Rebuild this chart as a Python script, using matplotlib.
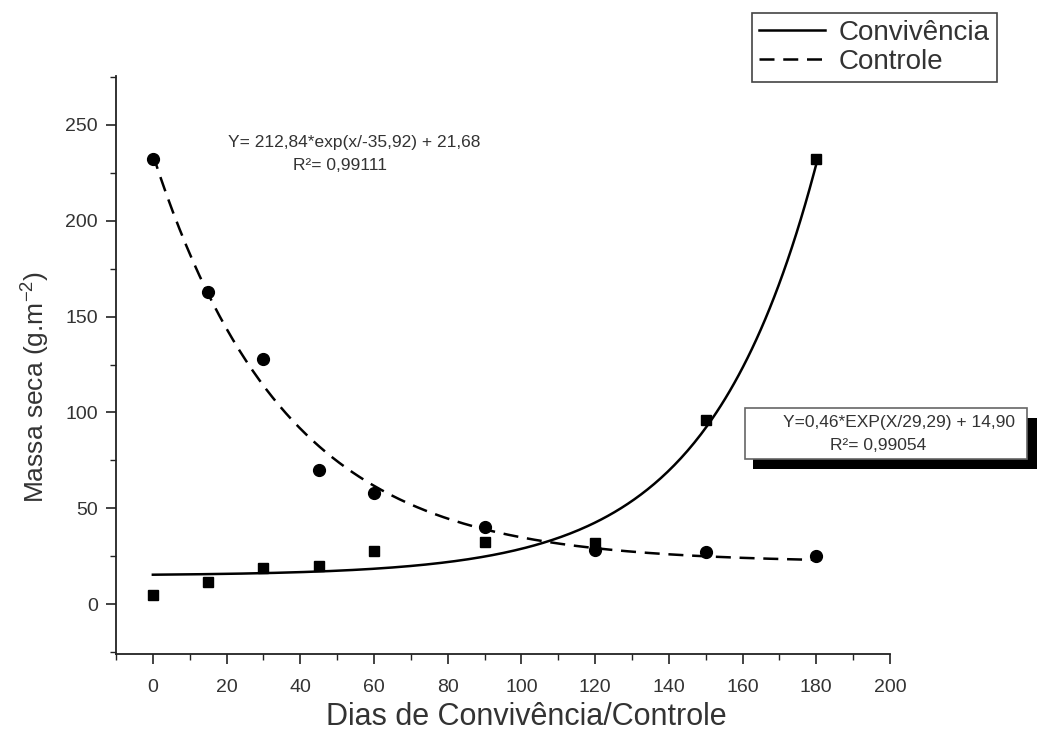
import numpy as np
import matplotlib
matplotlib.use("Agg")
import matplotlib.pyplot as plt
from matplotlib.patches import Rectangle
from matplotlib.ticker import MultipleLocator

plt.rcParams["font.family"] = ["Liberation Sans", "DejaVu Sans"]
plt.rcParams["mathtext.fontset"] = "custom"
plt.rcParams["mathtext.rm"] = "Liberation Sans"
plt.rcParams["mathtext.it"] = "Liberation Sans:italic"

# dados
dias = [0, 15, 30, 45, 60, 90, 120, 150, 180]
convivencia = [5, 11.5, 19, 20, 27.5, 32.5, 32, 96, 232]
controle = [232, 163, 128, 70, 58, 40, 28, 27, 25]

# coeficientes das curvas ajustadas (como impressos no grafico)
conv_a, conv_t, conv_y0 = 0.46, 29.29, 14.90
ctrl_a, ctrl_t, ctrl_y0 = 212.84, -35.92, 21.68

eq_controle = ["Y= 212,84*exp(x/-35,92) + 21,68", "R²= 0,99111"]
eq_convivencia = ["Y=0,46*EXP(X/29,29) + 14,90", "R²= 0,99054"]

W, H = 1038, 735
TXT = "#333333"


def fx(px):
    return px / W


def fy(py):
    return 1 - py / H


fig = plt.figure(figsize=(W / 100, H / 100), dpi=100)
ax = fig.add_axes([fx(116), fy(654), fx(890) - fx(116), fy(76) - fy(654)])

xs = np.linspace(dias[0], dias[-1], 300)
ax.plot(xs, conv_a * np.exp(xs / conv_t) + conv_y0, color="black", lw=1.8,
        label="Convivência")
ax.plot(xs, ctrl_a * np.exp(xs / ctrl_t) + ctrl_y0, color="black", lw=1.8,
        dashes=(6, 3.5), label="Controle")
ax.plot(dias, convivencia, "s", color="black", ms=7, ls="none")
ax.plot(dias, controle, "o", color="black", ms=8.5, ls="none")

ax.set_xlim(-10, 200)
ax.set_ylim(-26, 275.5)
ax.xaxis.set_major_locator(MultipleLocator(20))
ax.xaxis.set_minor_locator(MultipleLocator(10))
ax.yaxis.set_major_locator(MultipleLocator(50))
ax.yaxis.set_minor_locator(MultipleLocator(25))
for s in ["top", "right"]:
    ax.spines[s].set_visible(False)
for s in ["left", "bottom"]:
    ax.spines[s].set_color("#222222")
    ax.spines[s].set_linewidth(1.3)
ax.tick_params(which="major", length=7, width=1.2, color="#222222",
               labelsize=14, labelcolor=TXT)
ax.tick_params(axis="x", which="major", pad=11)
ax.tick_params(axis="y", which="major", pad=6)
ax.tick_params(which="minor", length=4, width=1.0, color="#222222")

ax.set_xlabel("Dias de Convivência/Controle", fontsize=22, color=TXT)
ax.xaxis.set_label_coords(0.53, -0.083)
ax.set_ylabel(r"Massa seca (g.m$^{-2}$)", fontsize=19, color=TXT)
ax.yaxis.set_label_coords(-0.083, 0.462)

leg = fig.legend(loc="upper right", bbox_to_anchor=(fx(997), fy(13)),
                 fontsize=20, handlelength=2.4, handletextpad=0.5,
                 borderpad=0.25, labelspacing=0.1, fancybox=False,
                 framealpha=1, edgecolor="#444444", borderaxespad=0)
leg.get_frame().set_linewidth(1.2)
for t in leg.get_texts():
    t.set_color(TXT)

# equacao da curva controle
fig.text(fx(354), fy(142), eq_controle[0], ha="center", va="center",
         fontsize=12.5, color=TXT)
fig.text(fx(340), fy(166), eq_controle[1], ha="center", va="center",
         fontsize=12.5, color=TXT)

# caixa com sombra da curva convivencia
fig.patches.append(Rectangle((fx(753), fy(469)), fx(1037) - fx(753),
                             fy(418) - fy(469), transform=fig.transFigure,
                             facecolor="black", edgecolor="none", zorder=1))
fig.patches.append(Rectangle((fx(745), fy(459)), fx(1027) - fx(745),
                             fy(408) - fy(459), transform=fig.transFigure,
                             facecolor="white", edgecolor="#666666", lw=1.2,
                             zorder=2))
fig.text(fx(899), fy(422), eq_convivencia[0], ha="center", va="center",
         fontsize=12.5, color=TXT, zorder=3)
fig.text(fx(878), fy(446), eq_convivencia[1], ha="center", va="center",
         fontsize=12.5, color=TXT, zorder=3)

fig.savefig("out.png", dpi=100)
